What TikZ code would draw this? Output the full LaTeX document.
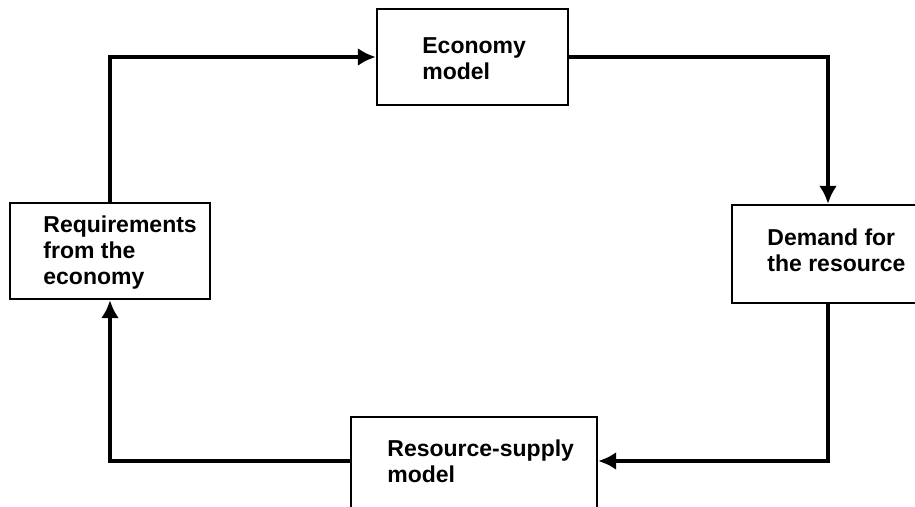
\documentclass[tikz,border=0pt]{standalone}
\usepackage{fontspec}
\setmainfont{Liberation Sans}
\usetikzlibrary{arrows.meta}
\begin{document}
\begin{tikzpicture}[x=0.5pt, y=-0.5pt, >={Latex[length=9pt,width=9pt]},
  box/.style={draw, line width=1.2pt, inner sep=0pt},
  txt/.style={align=left, inner sep=0pt, anchor=base west, font=\fontsize{11.5}{13}\selectfont\bfseries},
  flow/.style={->, line width=1.8pt}]
\useasboundingbox (0,0) rectangle (915,507);
\clip (0,0) rectangle (915,507);

\node[box, minimum width=95.5pt, minimum height=48pt] (econ) at (472.5,57) {};
\node[box, minimum width=96pt, minimum height=49pt] (demand) at (828,254) {};
\node[box, minimum width=100pt, minimum height=48pt] (req) at (110,251) {};
\node[box, minimum width=123pt, minimum height=50pt] (supply) at (474,467) {};

% base anchor sits on the last line
\node[txt] (econtxt) at (422,80) {Economy\\model};
\node[txt] (demandtxt) at (767,272) {Demand for\\the resource};
\node[txt] (reqtxt) at (43,285) {Requirements\\from the\\economy};
\node[txt] (supplytxt) at (387,482) {Resource-supply\\model};

\draw[flow] (req.north) |- (econ.west);
\draw[flow] (econ.east) -| (demand.north);
\draw[flow] (demand.south) |- ([yshift=3pt]supply.east);
\draw[flow] ([yshift=3pt]supply.west) -| (req.south);
\end{tikzpicture}
\end{document}
